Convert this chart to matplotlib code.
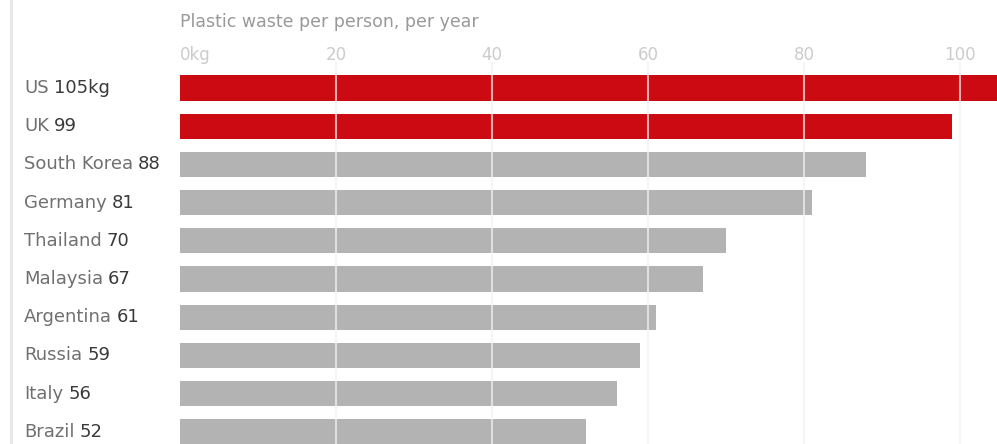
import matplotlib.pyplot as plt
from matplotlib.lines import Line2D

# Data
countries = ['US', 'UK', 'South Korea', 'Germany', 'Thailand', 'Malaysia',
             'Argentina', 'Russia', 'Italy', 'Brazil']
waste_kg = [105, 99, 88, 81, 70, 67, 61, 59, 56, 52]
value_labels = ['105kg', '99', '88', '81', '70', '67', '61', '59', '56', '52']
highlight = ['US', 'UK']
tick_values = [0, 20, 40, 60, 80, 100]
tick_labels = ['0kg', '20', '40', '60', '80', '100']

W, H = 997, 444
fig = plt.figure(figsize=(W / 100, H / 100), dpi=100)
# axes: left at x=180px, top at y=62px, to the bottom/right edges
ax = fig.add_axes([180 / W, 0, 1 - 180 / W, 1 - 62 / H])

red = '#cc0a12'
grey = '#b3b3b3'
colors = [red if c in highlight else grey for c in countries]
ypos = list(range(len(countries)))

ax.barh(ypos, waste_kg, height=0.66, color=colors, zorder=1)

for v in tick_values[1:]:
    ax.axvline(v, color='#f2f2f2', lw=1.5, alpha=0.7, zorder=2)

ax.set_xlim(0, 104.75)
ax.set_ylim(9.32, -0.68)
ax.axis('off')

# tick labels above the plot
for v, t in zip(tick_values, tick_labels):
    ha = 'left' if v == 0 else 'center'
    ax.text(v, -0.62, t, transform=ax.transData, ha=ha, va='bottom',
            fontsize=12, color='#cccccc')

fig.text(180 / W, 1 - 22 / H, 'Plastic waste per person, per year',
         ha='left', va='center', fontsize=12.5, color='#999999')

# country labels with darker value
fig.canvas.draw()
renderer = fig.canvas.get_renderer()
for i, (c, lab) in enumerate(zip(countries, value_labels)):
    y_fig = ax.transData.transform((0, i))[1] / H
    t = fig.text(24 / W, y_fig, c, ha='left', va='center',
                 fontsize=13, color='#707070')
    bb = t.get_window_extent(renderer)
    fig.text((bb.x1 + 5) / W, y_fig, lab, ha='left', va='center',
             fontsize=13, color='#3a3a3a')

fig.add_artist(Line2D([10.5 / W, 10.5 / W], [0, 1], color='#e6e6e6', lw=2,
                      transform=fig.transFigure))

fig.savefig('out.png', dpi=100)
